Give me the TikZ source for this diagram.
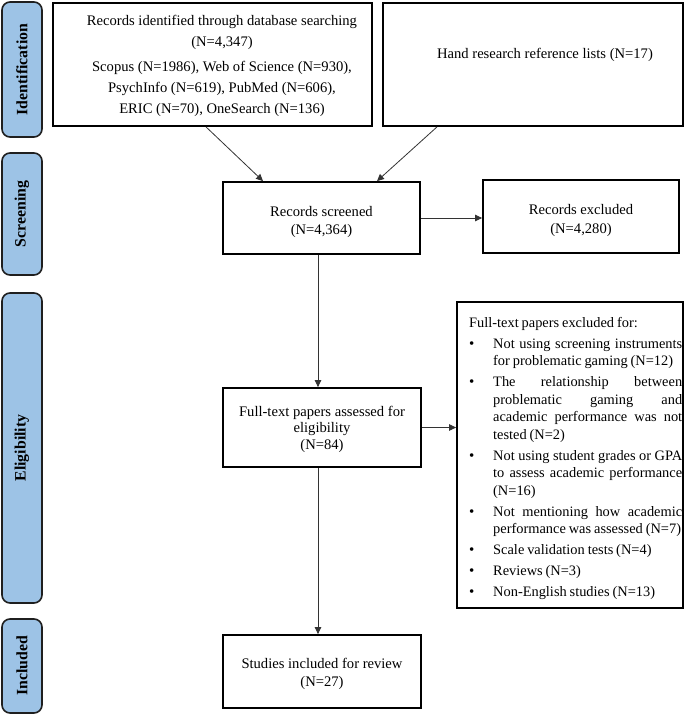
\documentclass[tikz,border=0pt]{standalone}
\usepackage{fontspec}
\setmainfont{Liberation Serif}
\usetikzlibrary{arrows.meta}
\definecolor{barblue}{HTML}{9DC3E6}
\definecolor{barline}{HTML}{1F1F1F}
\newcommand{\lbul}{{\fontsize{15}{15}\selectfont\textbullet}}
\newcommand{\exitem}[1]{\par\vspace{3.5pt}\noindent\hangindent=24pt\hangafter=1\makebox[24pt][l]{\lbul}#1\par}
\newcommand{\tstrut}[1]{\rule{0pt}{#1}}
\begin{document}
\begin{tikzpicture}[x=1pt,y=-1pt,
  phase/.style={draw=barline, fill=barblue, line width=1.6pt, rounded corners=8pt,
    rotate=90, minimum height=40pt, inner sep=0pt,
    font=\fontsize{15.8}{18}\selectfont\bfseries},
  flowbox/.style={draw=black, line width=1.8pt, inner sep=0pt, align=center,
    font=\fontsize{14.6}{18}\selectfont},
  boxtext/.style={align=center, inner sep=0pt, font=\fontsize{14.6}{21}\selectfont},
  conn/.style={draw=black!80, line width=0.8pt, -{Triangle[length=7pt,width=6.5pt]}}
]
\useasboundingbox (0,0) rectangle (685,715);

% phase bars
\node[phase, minimum width=135pt] (pid) at (22,69.5) {Identification};
\node[phase, minimum width=122pt] (psc) at (22,214) {Screening};
\node[phase, minimum width=310pt] (pel) at (22,448) {Eligibility};
\node[phase, minimum width=94pt] (pin) at (22,666) {Included};

% top boxes
\node[flowbox, minimum width=319pt, minimum height=123pt] (db) at (212.5,64.5) {};
\node[boxtext] (dbt) at (222,66) {Records identified through database searching\\
(N=4,347)\\[4pt]
Scopus (N=1986), Web of Science (N=930),\\
PsychInfo (N=619), PubMed (N=606),\\
ERIC (N=70), OneSearch (N=136)};

\node[flowbox, minimum width=300pt, minimum height=123pt] (hand) at (533,64.5) {};
\node[boxtext] (handt) at (545,55) {Hand research reference lists (N=17)};

% screening
\node[flowbox, minimum width=197pt, minimum height=72pt] (scr) at (321.5,218)
  {\tstrut{18pt}Records screened\\(N=4,364)};
\node[flowbox, minimum width=196pt, minimum height=73pt,
  font=\fontsize{14.6}{19}\selectfont] (exc) at (581,216.5)
  {\tstrut{18pt}Records excluded\\(N=4,280)};

% eligibility
\node[flowbox, minimum width=198pt, minimum height=79pt,
  font=\fontsize{14.6}{16.5}\selectfont] (full) at (322,427.5)
  {\tstrut{14pt}Full-text papers assessed for\\eligibility\\(N=84)};
\node[flowbox, minimum width=226pt, minimum height=306pt] (ftx) at (570,455) {};
\node[inner sep=0pt, anchor=north west, text width=213pt, align=justify,
  font=\fontsize{14.4}{17.5}\selectfont] (ftxt) at (469,317) {%
\spaceskip=0.2em plus 0.3em minus 0.04em
Full-text papers excluded for:
\exitem{Not using screening instruments\linebreak for problematic gaming (N=12)}
\exitem{The relationship between\linebreak problematic gaming and\linebreak academic performance was not\linebreak tested (N=2)}
\exitem{Not using student grades or GPA\linebreak to assess academic performance\linebreak (N=16)}
\exitem{Not mentioning how academic\linebreak performance was assessed (N=7)}
\exitem{Scale validation tests (N=4)}
\exitem{Reviews (N=3)}
\exitem{Non-English studies (N=13)}};

% included
\node[flowbox, minimum width=198pt, minimum height=73pt] (inc) at (322,671.5)
  {\tstrut{16pt}Studies included for review\\(N=27)};

% connectors
\draw[conn] ([xshift=-6.5pt]db.south) -- ([xshift=-58.5pt]scr.north);
\draw[conn] ([xshift=-96pt]hand.south) -- ([xshift=55.5pt]scr.north);
\draw[conn] (scr.east) -- (scr.east -| exc.west);
\draw[conn] ([xshift=-3.5pt]scr.south) -- ([xshift=-4pt]full.north);
\draw[conn] (full.east) -- (full.east -| ftx.west);
\draw[conn] ([xshift=-4pt]full.south) -- ([xshift=-4pt]inc.north);
\end{tikzpicture}
\end{document}
